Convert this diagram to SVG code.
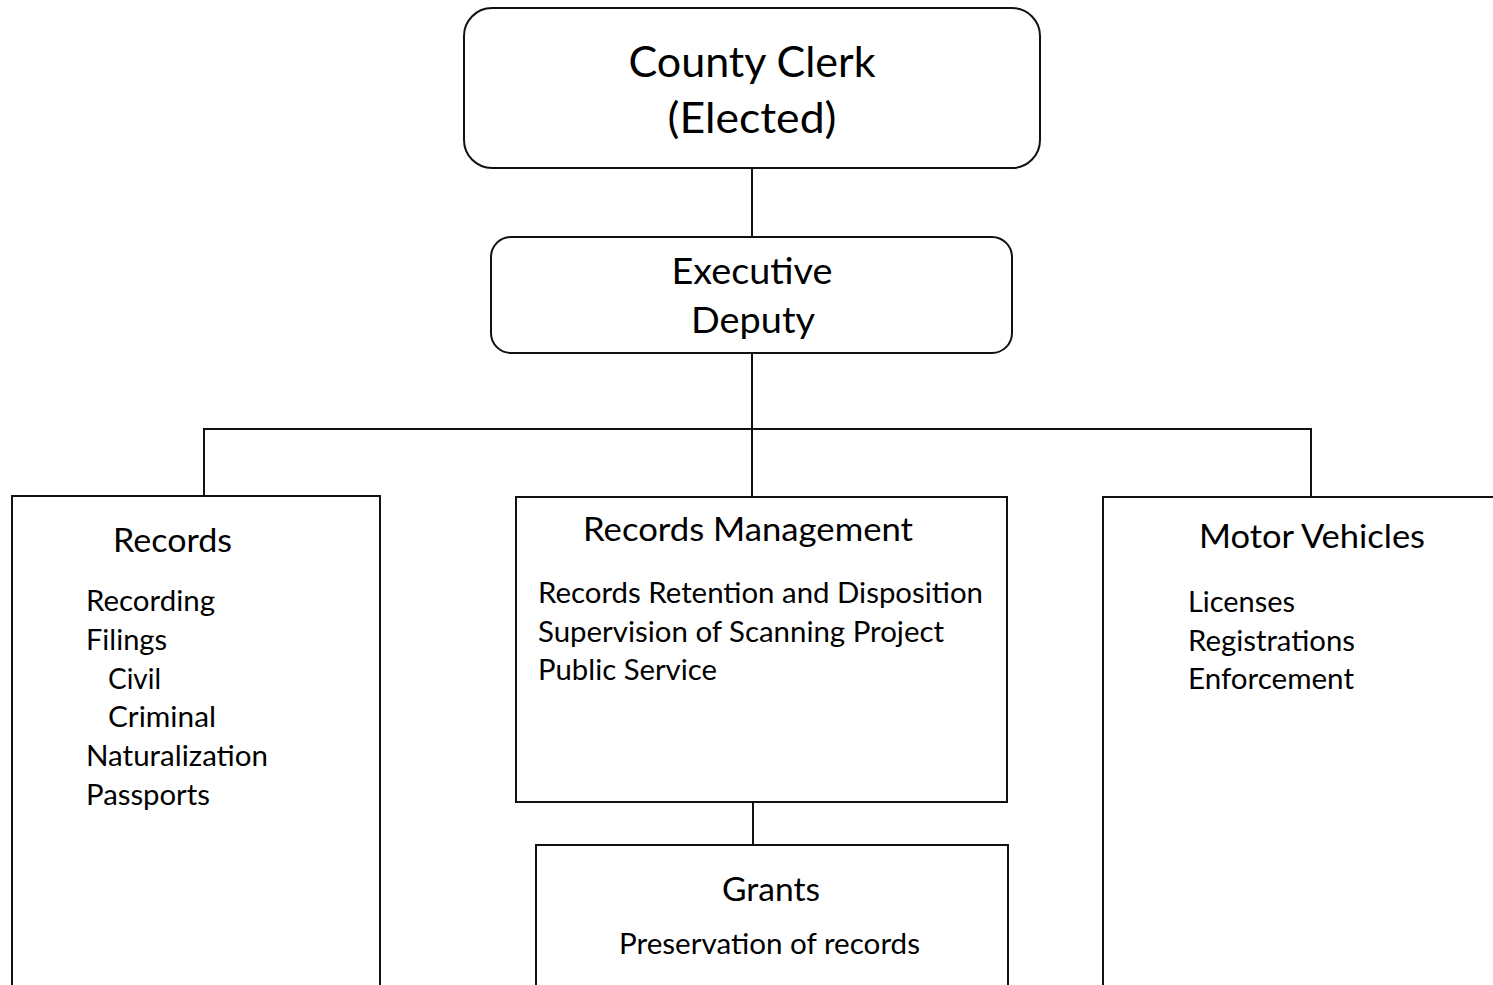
<svg xmlns="http://www.w3.org/2000/svg" width="1493" height="985" viewBox="0 0 1493 985">
<style>
.box{fill:#fff;stroke:#111;stroke-width:2}
.conn{stroke:#111;stroke-width:2;fill:none}
text{font-family:Lato,"Open Sans","Liberation Sans",sans-serif;fill:#000}
.t1{font-size:43px}
.t2{font-size:37px}
.h{font-size:32px}
.i{font-size:28.5px}
</style>
<rect width="1493" height="985" fill="#fff"/>
<g id="connectors">
<line class="conn" x1="752" y1="168" x2="752" y2="237"/>
<line class="conn" x1="752" y1="353" x2="752" y2="497"/>
<polyline class="conn" points="204,496 204,429 1311,429 1311,497"/>
<line class="conn" x1="753" y1="802" x2="753" y2="845"/>
</g>
<g id="county-clerk">
<rect class="box" x="464" y="8" width="576" height="160" rx="28"/>
<text class="t1" x="752" y="77" text-anchor="middle" textLength="247" lengthAdjust="spacingAndGlyphs">County Clerk</text>
<text class="t1" x="752" y="133" text-anchor="middle" textLength="169" lengthAdjust="spacingAndGlyphs">(Elected)</text>
</g>
<g id="executive-deputy">
<rect class="box" x="491" y="237" width="521" height="116" rx="20"/>
<text class="t2" x="752" y="284" text-anchor="middle" textLength="161" lengthAdjust="spacingAndGlyphs">Executive</text>
<text class="t2" x="753" y="333" text-anchor="middle" textLength="124" lengthAdjust="spacingAndGlyphs">Deputy</text>
</g>
<g id="records">
<rect class="box" x="12" y="496" width="368" height="500"/>
<text class="h" x="113" y="552" textLength="119" lengthAdjust="spacingAndGlyphs">Records</text>
<text class="i" x="86" y="611" textLength="129" lengthAdjust="spacingAndGlyphs">Recording</text>
<text class="i" x="86" y="650" textLength="81" lengthAdjust="spacingAndGlyphs">Filings</text>
<text class="i" x="108" y="689" textLength="53" lengthAdjust="spacingAndGlyphs">Civil</text>
<text class="i" x="108" y="727" textLength="108" lengthAdjust="spacingAndGlyphs">Criminal</text>
<text class="i" x="86" y="766" textLength="182" lengthAdjust="spacingAndGlyphs">Naturalization</text>
<text class="i" x="86" y="805" textLength="124" lengthAdjust="spacingAndGlyphs">Passports</text>
</g>
<g id="records-management">
<rect class="box" x="516" y="497" width="491" height="305"/>
<text class="h" x="583" y="541" textLength="330" lengthAdjust="spacingAndGlyphs">Records Management</text>
<text class="i" x="538" y="603" textLength="445" lengthAdjust="spacingAndGlyphs">Records Retention and Disposition</text>
<text class="i" x="538" y="642" textLength="406" lengthAdjust="spacingAndGlyphs">Supervision of Scanning Project</text>
<text class="i" x="538" y="680" textLength="179" lengthAdjust="spacingAndGlyphs">Public Service</text>
</g>
<g id="grants">
<rect class="box" x="536" y="845" width="472" height="150"/>
<text class="h" x="722" y="901" textLength="98" lengthAdjust="spacingAndGlyphs">Grants</text>
<text class="i" x="619" y="954" textLength="301" lengthAdjust="spacingAndGlyphs">Preservation of records</text>
</g>
<g id="motor-vehicles">
<rect class="box" x="1103" y="497" width="400" height="500"/>
<text class="h" x="1199" y="548" textLength="226" lengthAdjust="spacingAndGlyphs">Motor Vehicles</text>
<text class="i" x="1188" y="612" textLength="107" lengthAdjust="spacingAndGlyphs">Licenses</text>
<text class="i" x="1188" y="651" textLength="167" lengthAdjust="spacingAndGlyphs">Registrations</text>
<text class="i" x="1188" y="689" textLength="166" lengthAdjust="spacingAndGlyphs">Enforcement</text>
</g>
</svg>
